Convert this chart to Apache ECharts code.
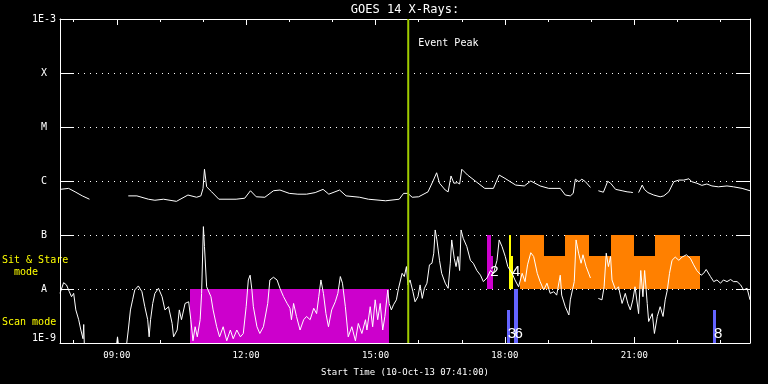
<!DOCTYPE html>
<html><head><meta charset="utf-8">
<script src="https://cdn.jsdelivr.net/npm/echarts@6/dist/echarts.min.js"></script>
<style>html,body{margin:0;padding:0;background:#000}#c{width:768px;height:384px}</style>
</head><body><div id="c"></div>
<script>
// time in minutes since 00:00 on 10-Oct-13, flux in W/m^2
const startMinute = 461;   // 07:41
const endMinute = 1421;    // 23:41
const majorTicks = [540, 720, 900, 1080, 1260];
const hourTicks = [480,540,600,660,720,780,840,900,960,1020,1080,1140,1200,1260,1320,1380];
const yTickLabels = ['1E-9','A','B','C','M','X','1E-3']; // exponents -9 .. -3

const longChannel = [[461,7.0e-7],[473,7.3e-7],[482,6.3e-7],[492,5.3e-7],[502,4.6e-7],[530,'-'],[556,5.3e-7],[568,5.3e-7],[584,4.6e-7],[593,4.4e-7],[605,4.6e-7],[623,4.2e-7],[639,5.5e-7],[651,5.0e-7],[657,5.3e-7],[660,7.3e-7],[662,1.65e-6],[665,7.8e-7],[672,6.3e-7],[682,4.6e-7],[706,4.6e-7],[718,4.8e-7],[726,6.6e-7],[734,5.1e-7],[746,5.0e-7],[758,6.6e-7],[767,6.8e-7],[780,5.9e-7],[792,5.7e-7],[804,5.7e-7],[816,6.1e-7],[827,7.0e-7],[835,5.7e-7],[850,6.8e-7],[859,5.3e-7],[878,5.0e-7],[890,4.6e-7],[914,4.3e-7],[933,4.6e-7],[939,5.9e-7],[945,5.9e-7],[951,5.0e-7],[960,5.1e-7],[973,6.3e-7],[980,1.0e-6],[985,1.42e-6],[989,9.1e-7],[997,6.8e-7],[1001,6.3e-7],[1005,1.24e-6],[1009,9.1e-7],[1014,9.3e-7],[1017,8.8e-7],[1020,1.65e-6],[1028,1.29e-6],[1040,9.7e-7],[1052,7.3e-7],[1064,7.3e-7],[1072,1.29e-6],[1080,1.12e-6],[1095,8.4e-7],[1107,8.1e-7],[1116,1.0e-6],[1129,8.1e-7],[1141,7.3e-7],[1157,7.3e-7],[1164,5.5e-7],[1171,5.3e-7],[1175,5.9e-7],[1178,1.08e-6],[1183,9.7e-7],[1187,1.08e-6],[1192,9.7e-7],[1199,7.6e-7],[1205,'-'],[1210,6.6e-7],[1217,6.2e-7],[1220,7.8e-7],[1223,9.9e-7],[1227,9.1e-7],[1234,7.0e-7],[1243,6.6e-7],[1250,6.3e-7],[1255,6.2e-7],[1258,6.1e-7],[1262,'-'],[1266,6.1e-7],[1271,8.4e-7],[1274,7.0e-7],[1279,6.1e-7],[1287,5.5e-7],[1296,5.1e-7],[1301,5.3e-7],[1308,6.3e-7],[1315,9.7e-7],[1322,1.04e-6],[1329,1.04e-6],[1336,1.1e-6],[1340,9.7e-7],[1347,9.1e-7],[1354,8.3e-7],[1361,8.8e-7],[1368,8.1e-7],[1377,7.8e-7],[1389,8.1e-7],[1398,7.8e-7],[1410,7.3e-7],[1421,6.6e-7]];

const shortChannel = [[461,8.3e-9],[466,1.31e-8],[470,1.19e-8],[474,8.9e-9],[477,7.2e-9],[480,8.3e-9],[483,4.1e-9],[487,2.7e-9],[490,1.74e-9],[493,1.2e-9],[494,2.2e-9],[495,8e-10],[520,8e-10],[539,8e-10],[541,1.3e-9],[543,8e-10],[553,8e-10],[556,1.74e-9],[559,4.1e-9],[562,6.3e-9],[565,9.6e-9],[570,1.14e-8],[575,8.9e-9],[579,4.7e-9],[583,2.7e-9],[585,1.3e-9],[587,2.7e-9],[590,5.4e-9],[593,8.3e-9],[598,1.03e-8],[603,7.2e-9],[607,4.1e-9],[612,4.7e-9],[617,2.3e-9],[619,1.3e-9],[624,1.74e-9],[627,4.1e-9],[630,2.7e-9],[635,5.4e-9],[640,5.8e-9],[643,2.7e-9],[646,1.1e-9],[649,2.0e-9],[652,1.3e-9],[656,2.7e-9],[658,8.3e-9],[660.5,1.43e-7],[662,6.1e-8],[665,1.1e-8],[667,1.19e-8],[671,7.2e-9],[674,4.1e-9],[679,2.0e-9],[683,1.3e-9],[688,2.0e-9],[693,1.1e-9],[698,1.74e-9],[702,1.2e-9],[707,1.74e-9],[712,1.3e-9],[716,1.5e-9],[720,4.7e-9],[723,1.47e-8],[725.5,1.8e-8],[728,9.6e-9],[730,4.7e-9],[735,2.0e-9],[739,1.5e-9],[744,2.0e-9],[750,5.4e-9],[753,1.47e-8],[758,1.65e-8],[763,1.47e-8],[767,1.03e-8],[772,7.2e-9],[777,5.4e-9],[781,4.4e-9],[783,2.7e-9],[786,5.4e-9],[790,3.1e-9],[795,1.74e-9],[800,2.7e-9],[804,3.1e-9],[809,2.7e-9],[814,4.4e-9],[818,3.5e-9],[821,7.2e-9],[824,1.47e-8],[827.5,8.3e-9],[831,3.5e-9],[834.5,2.0e-9],[839,4.1e-9],[844,5.8e-9],[847.6,8.3e-9],[851,1.7e-8],[854,1.28e-8],[858,4.7e-9],[862,1.3e-9],[867,2.0e-9],[872,1.1e-9],[876,2.3e-9],[881,1.5e-9],[886,2.7e-9],[888,1.74e-9],[892.6,4.7e-9],[896,2.0e-9],[899.5,6.3e-9],[903,2.7e-9],[906.5,5.4e-9],[910,1.74e-9],[913,3.1e-9],[917,9.6e-9],[919,5.4e-9],[922,4.1e-9],[925,5.1e-9],[929,6.3e-9],[932,1.03e-8],[937,1.95e-8],[940,1.7e-8],[943,2.6e-8],[945,1.19e-8],[948,1.47e-8],[952,8.9e-9],[955,5.8e-9],[959,7.2e-9],[962,1.19e-8],[965,6.7e-9],[968,1.03e-8],[971.5,1.28e-8],[975,2.8e-8],[978.5,3.0e-8],[981,4.6e-8],[983,1.24e-7],[985.4,8.1e-8],[989,3.4e-8],[992,1.95e-8],[997,1.28e-8],[1001,1.03e-8],[1004,3.0e-8],[1006,8.1e-8],[1009.5,3.7e-8],[1012,2.6e-8],[1014.6,4.0e-8],[1017,2.2e-8],[1019,1.24e-7],[1022,8.7e-8],[1027,6.1e-8],[1032,3.4e-8],[1036,3.0e-8],[1041,2.2e-8],[1046,1.8e-8],[1050,1.37e-8],[1055,1.6e-8],[1060,2.2e-8],[1064,1.95e-8],[1069,3.4e-8],[1072,8.1e-8],[1076,6.1e-8],[1080.5,4.0e-8],[1084,2.6e-8],[1090,1.95e-8],[1094,1.47e-8],[1099,1.1e-8],[1104,1.95e-8],[1108,1.37e-8],[1111.5,2.8e-8],[1116,4.7e-8],[1120,4.0e-8],[1125,1.95e-8],[1129,1.37e-8],[1134,9.6e-9],[1138.5,1.28e-8],[1143,8.3e-9],[1148,8.9e-9],[1152,7.7e-9],[1157,1.8e-8],[1159,7.7e-9],[1164,4.7e-9],[1169,3.3e-9],[1171,6.3e-9],[1173,5.8e-9],[1176.5,1.37e-8],[1179,8.1e-8],[1182.5,4.6e-8],[1186,3.0e-8],[1188.6,4.3e-8],[1193,2.6e-8],[1199,1.6e-8],[1204,'-'],[1210,6.7e-9],[1215,6.3e-9],[1218,1.1e-8],[1221,4.6e-8],[1224,2.6e-8],[1227,4.0e-8],[1229,1.47e-8],[1234,9.6e-9],[1238,1.1e-8],[1243,5.4e-9],[1247.5,8.3e-9],[1251,5.4e-9],[1254.5,4.1e-9],[1258,6.3e-9],[1261,1.1e-8],[1266,3.5e-9],[1269,2.2e-8],[1272,7.2e-9],[1274.4,2.2e-8],[1278,5.4e-9],[1280,2.5e-9],[1285,3.5e-9],[1288,1.5e-9],[1292,3.1e-9],[1296,4.7e-9],[1300,3.1e-9],[1303,6.3e-9],[1306,9.6e-9],[1309,1.95e-8],[1312.5,3.4e-8],[1317,3.9e-8],[1322,3.4e-8],[1326.5,3.9e-8],[1332.5,4.3e-8],[1338,3.7e-8],[1342.6,2.8e-8],[1347,2.2e-8],[1353,1.8e-8],[1356.5,1.95e-8],[1360,2.3e-8],[1366,1.7e-8],[1370.5,1.37e-8],[1375,1.47e-8],[1380,1.28e-8],[1384,1.47e-8],[1389,1.37e-8],[1394,1.5e-8],[1398,1.37e-8],[1403,1.37e-8],[1408,1.19e-8],[1412,9.6e-9],[1417,1.03e-8],[1421,6.3e-9]];

// [start minute, end minute, low flux, high flux]
const magentaBlocks = [[642,919,1e-9,1e-8],[1055,1060,1e-8,1e-7],[1060,1064,1e-8,4.1e-8]];
const yellowBlocks = [[1086,1089,1e-8,1e-7],[1089,1090,1e-8,4.1e-8]];
const orangeBlocks = [[1101,1135,1e-8,1e-7],[1135,1164,1e-8,4.1e-8],[1164,1197,1e-8,1e-7],[1197,1227,1e-8,4.1e-8],[1227,1260,1e-8,1e-7],[1260,1289,1e-8,4.1e-8],[1289,1323,1e-8,1e-7],[1323,1352,1e-8,4.1e-8]];
const blueBlocks = [[1083.6,1087.4,1e-9,4.1e-9],[1093,1098.2,1e-9,1e-8],[1370,1373,1e-9,4.1e-9]];
// [minute, flux, text]
const blockLabels = [[1059.6,2.1e-8,'2'],[1090,2.1e-8,'4'],[1084,1.5e-9,'3'],[1093.5,1.5e-9,'6'],[1371,1.5e-9,'8']];
const eventPeak = [[945.5]];

const MONO = 'DejaVu Sans Mono';
function pad(n){return (n<10?'0':'')+n;}
function fmtTime(v){const h=Math.floor(v/60), m=Math.round(v-h*60);return pad(h)+':'+pad(m);}

function blockSeries(data, color){
  return {type:'custom', data, silent:true, clip:true, z:1, animation:false,
    encode:{x:[0,1], y:[2,3]},
    renderItem(params, api){
      const a = api.coord([api.value(0), api.value(3)]);
      const b = api.coord([api.value(1), api.value(2)]);
      const x0 = Math.round(a[0]), x1 = Math.round(b[0]);
      const y0 = Math.round(a[1]), y1 = Math.round(b[1]);
      return {type:'rect', shape:{x:x0, y:y0, width:Math.max(2, x1-x0), height:y1-y0}, style:{fill:color}};
    }};
}

const chart = echarts.init(document.getElementById('c'), null, {renderer:'canvas'});
const xBase = {type:'value', min:startMinute, max:endMinute, splitLine:{show:false}};
chart.setOption({
  backgroundColor:'#000',
  animation:false,
  grid:{left:60, right:18, top:19, bottom:41},
  graphic:[
    {type:'text', x:405, y:4, style:{text:'GOES 14 X-Rays:', fill:'#fff', font:'12px "'+MONO+'"', align:'center'}},
    {type:'text', x:2, y:254, style:{text:'Sit & Stare\n  mode', fill:'#ffff00', font:'10px "'+MONO+'"', lineHeight:12}},
    {type:'text', x:2, y:317, style:{text:'Scan mode', fill:'#ffff00', font:'10px "'+MONO+'"'}}
  ],
  xAxis:[
    Object.assign({}, xBase, {position:'bottom',
      axisLine:{show:true, lineStyle:{color:'#fff', width:1}},
      axisTick:{show:true, inside:true, length:6, customValues:majorTicks, lineStyle:{color:'#fff'}},
      axisLabel:{show:true, customValues:majorTicks, formatter:fmtTime, color:'#fff', fontFamily:MONO, fontSize:9, margin:8},
      name:'Start Time (10-Oct-13 07:41:00)', nameLocation:'middle', nameGap:25,
      nameTextStyle:{color:'#fff', fontFamily:MONO, fontSize:9}}),
    Object.assign({}, xBase, {position:'bottom', axisLine:{show:false},
      axisTick:{show:true, inside:true, length:3, customValues:hourTicks, lineStyle:{color:'#fff'}},
      axisLabel:{show:false}}),
    Object.assign({}, xBase, {position:'top',
      axisLine:{show:true, lineStyle:{color:'#fff', width:1}},
      axisTick:{show:true, inside:true, length:6, customValues:majorTicks, lineStyle:{color:'#fff'}},
      axisLabel:{show:false}}),
    Object.assign({}, xBase, {position:'top', axisLine:{show:false},
      axisTick:{show:true, inside:true, length:3, customValues:hourTicks, lineStyle:{color:'#fff'}},
      axisLabel:{show:false}})
  ],
  yAxis:[
    {type:'log', logBase:10, min:1e-9, max:1e-3, position:'left',
      axisLine:{show:true, lineStyle:{color:'#fff'}},
      axisTick:{show:true, inside:true, length:14, lineStyle:{color:'#fff'}},
      splitLine:{show:true, lineStyle:{color:'#fff', width:1, type:[1,5]}},
      minorTick:{show:false},
      axisLabel:{color:'#fff', fontFamily:MONO, fontSize:10, align:'center', margin:16,
        verticalAlignMaxLabel:'top', verticalAlignMinLabel:'bottom',
        formatter:(v)=>yTickLabels[Math.round(Math.log10(v))+9] || ''}},
    {type:'log', logBase:10, min:1e-9, max:1e-3, position:'right',
      axisLine:{show:true, lineStyle:{color:'#fff'}},
      axisTick:{show:true, inside:true, length:14, lineStyle:{color:'#fff'}},
      splitLine:{show:false}, axisLabel:{show:false}}
  ],
  series:[
    blockSeries(magentaBlocks, '#cc00cc'),
    blockSeries(yellowBlocks, '#ffff00'),
    blockSeries(orangeBlocks, '#ff8000'),
    blockSeries(blueBlocks, '#6464ff'),
    {type:'line', data:longChannel, symbol:'none', showSymbol:false, connectNulls:false, clip:true, z:3,
      lineStyle:{color:'#fff', width:1}, silent:true},
    {type:'line', data:shortChannel, symbol:'none', showSymbol:false, connectNulls:false, clip:true, z:3,
      lineStyle:{color:'#fff', width:1}, silent:true},
    {type:'custom', data:blockLabels.map(d=>[d[0], d[1]]), z:4, silent:true, clip:false,
      renderItem(params, api){
        const p = api.coord([api.value(0), api.value(1)]);
        return {type:'text', x:p[0], y:p[1], style:{text:blockLabels[params.dataIndex][2], fill:'#fff',
          font:'15px "Liberation Sans"', verticalAlign:'middle', align:'left'}};
      }},
    {type:'custom', data:eventPeak, z:5, silent:true, clip:false, encode:{x:0},
      renderItem(params, api){
        const t = api.value(0);
        const a = api.coord([t, 1e-3]);
        const b = api.coord([t, 1e-9]);
        return {type:'group', children:[
          {type:'line', shape:{x1:a[0], y1:a[1], x2:b[0], y2:b[1]}, style:{stroke:'#a0cc00', lineWidth:2}},
          {type:'text', x:a[0]+10, y:a[1]+19, style:{text:'Event Peak', fill:'#fff', font:'10px "'+MONO+'"'}}
        ]};
      }}
  ]
});
</script></body></html>
